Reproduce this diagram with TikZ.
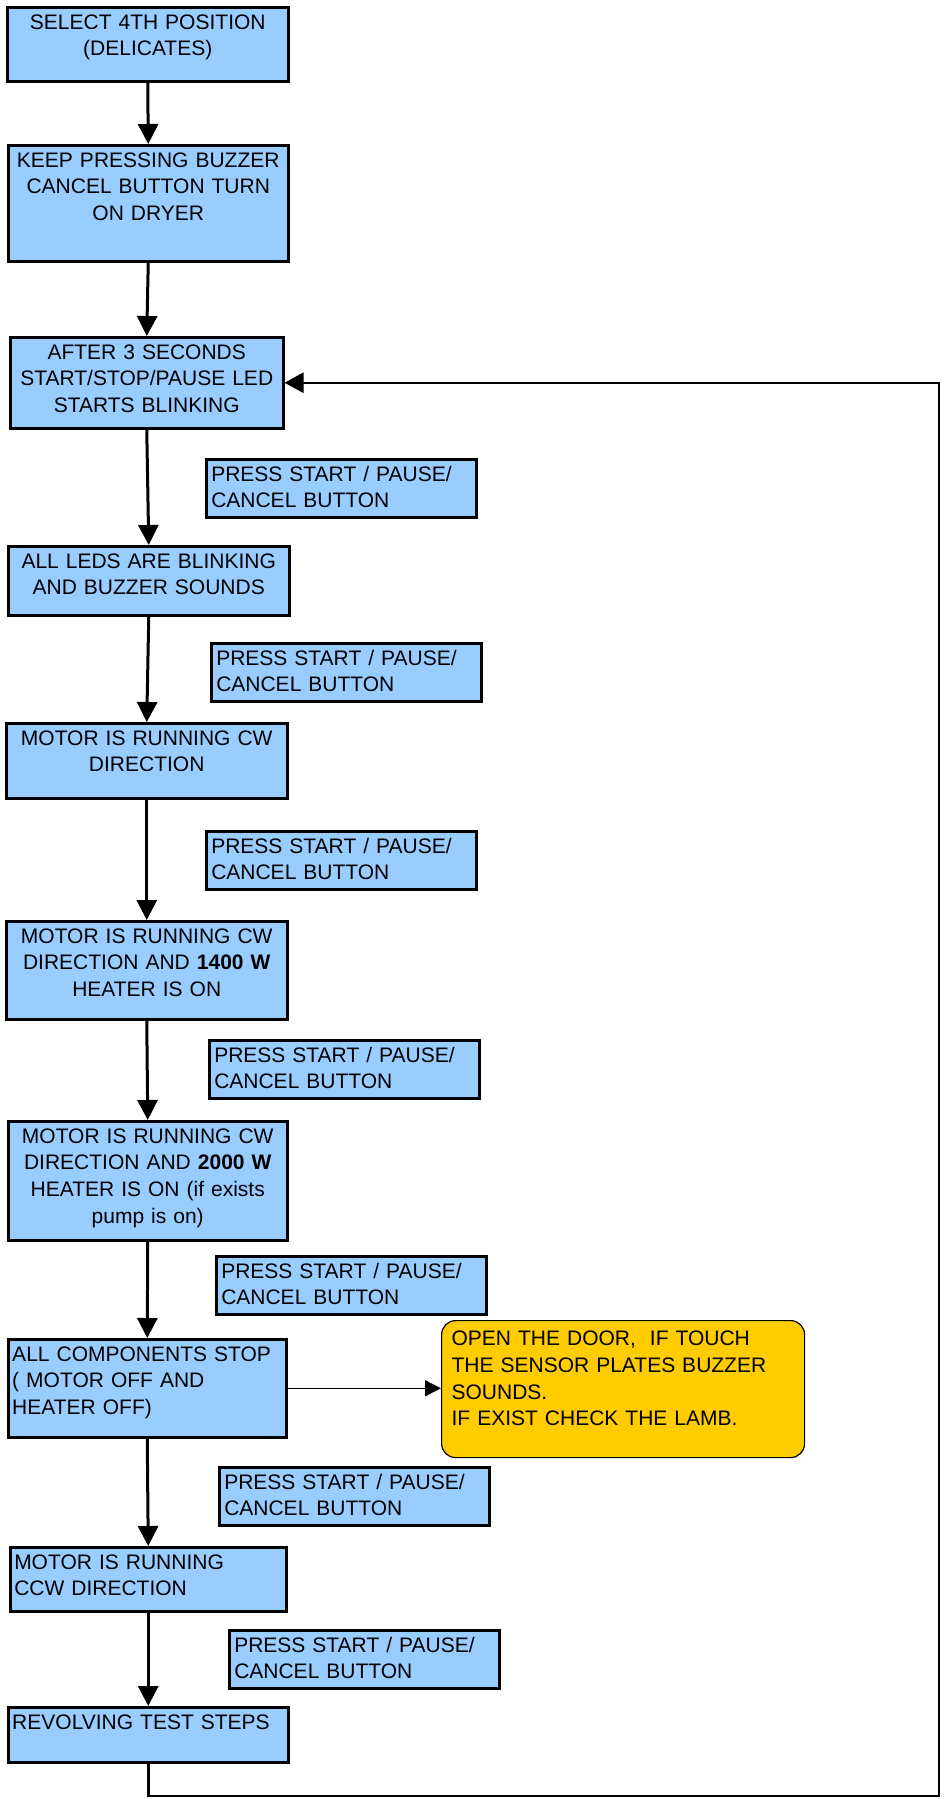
\documentclass[tikz,border=0pt]{standalone}
\usepackage{fontspec}
\setmainfont{Liberation Sans}
\usetikzlibrary{arrows.meta}
\definecolor{stepblue}{HTML}{99CCFF}
\definecolor{noteyellow}{HTML}{FFCC00}

\begin{document}
\begin{tikzpicture}[x=1pt,y=-1pt,
every node/.style={anchor=north west, inner xsep=5pt, inner ysep=0pt, text height=22pt,
  font=\fontsize{21pt}{26.7pt}\selectfont},
stepbox/.style={draw, line width=2.5pt, fill=stepblue, align=center, inner xsep=2pt},
leftbox/.style={draw, line width=2.5pt, fill=stepblue, align=left, inner xsep=4pt},
pressbox/.style={draw, line width=2.5pt, fill=stepblue, align=left, text width=260pt, text depth=36pt},
notebox/.style={draw, line width=1.2pt, fill=noteyellow, rounded corners=14pt, align=left,
  inner xsep=10pt, text height=25pt},
flow/.style={line width=3pt, -{Triangle[width=20pt,length=20pt]}},
side/.style={line width=1.5pt, -{Triangle[width=16pt,length=16pt]}},
back/.style={line width=2.5pt, -{Triangle[width=20pt,length=19pt]}}
]
\useasboundingbox (0,0) rectangle (944,1799);

% The steps
\node[stepbox, text width=277pt, text depth=52pt] (sel) at (6,6) {SELECT 4TH POSITION\\(DELICATES)};
\node[stepbox, text width=276pt, text depth=94pt] (keep) at (7,144) {KEEP PRESSING BUZZER\\CANCEL BUTTON TURN\\ON DRYER};
\node[stepbox, text width=269pt, text depth=69pt] (after) at (9,336) {AFTER 3 SECONDS\\START/STOP/PAUSE LED\\STARTS BLINKING};
\node[stepbox, text width=277pt, text depth=47pt] (leds) at (7,545) {ALL LEDS ARE BLINKING\\AND BUZZER SOUNDS};
\node[stepbox, text width=277pt, text depth=53pt] (cw) at (5,722) {MOTOR IS RUNNING CW\\DIRECTION};
\node[stepbox, text width=277pt, text depth=76pt] (heat1) at (5,920) {MOTOR IS RUNNING CW\\DIRECTION AND \textbf{1400 W}\\HEATER IS ON};
\node[stepbox, text width=275pt, text depth=97pt] (heat2) at (7,1120) {MOTOR IS RUNNING CW\\DIRECTION AND \textbf{2000 W}\\HEATER IS ON (if exists\\pump is on)};
\node[leftbox, text width=270pt, text depth=76pt] (stop) at (7,1338) {ALL COMPONENTS STOP\\( MOTOR OFF AND\\HEATER OFF)};
\node[leftbox, text width=268pt, text depth=42pt] (ccw) at (9,1546) {MOTOR IS RUNNING\\CCW DIRECTION};
\node[leftbox, text width=272pt, text depth=33pt] (rev) at (7,1706) {REVOLVING TEST STEPS};

% The buttons
\node[pressbox] (press1) at (205,458) {PRESS START / PAUSE/\\CANCEL BUTTON};
\node[pressbox] (press2) at (210,642) {PRESS START / PAUSE/\\CANCEL BUTTON};
\node[pressbox] (press3) at (205,830) {PRESS START / PAUSE/\\CANCEL BUTTON};
\node[pressbox] (press4) at (208,1039) {PRESS START / PAUSE/\\CANCEL BUTTON};
\node[pressbox] (press5) at (215,1255) {PRESS START / PAUSE/\\CANCEL BUTTON};
\node[pressbox] (press6) at (218,1466) {PRESS START / PAUSE/\\CANCEL BUTTON};
\node[pressbox] (press7) at (228,1629) {PRESS START / PAUSE/\\CANCEL BUTTON};

% The door check
\node[notebox, text width=343pt, text depth=112pt] (door) at (441,1320) {OPEN THE DOOR, \ IF TOUCH\\THE SENSOR PLATES BUZZER\\SOUNDS.\\IF EXIST CHECK THE LAMB.};

% The arrows
\foreach \a/\b in {sel/keep, keep/after, after/leds, leds/cw, cw/heat1, heat1/heat2, heat2/stop, stop/ccw, ccw/rev}
  \draw[flow] (\a.south) -- (\b.north);
\draw[side] (stop.east) -- (stop.east -| door.west);
\coordinate (turn) at (939,1796);
\draw[back] (rev.south) |- (turn) |- (after.east);
\end{tikzpicture}
\end{document}
